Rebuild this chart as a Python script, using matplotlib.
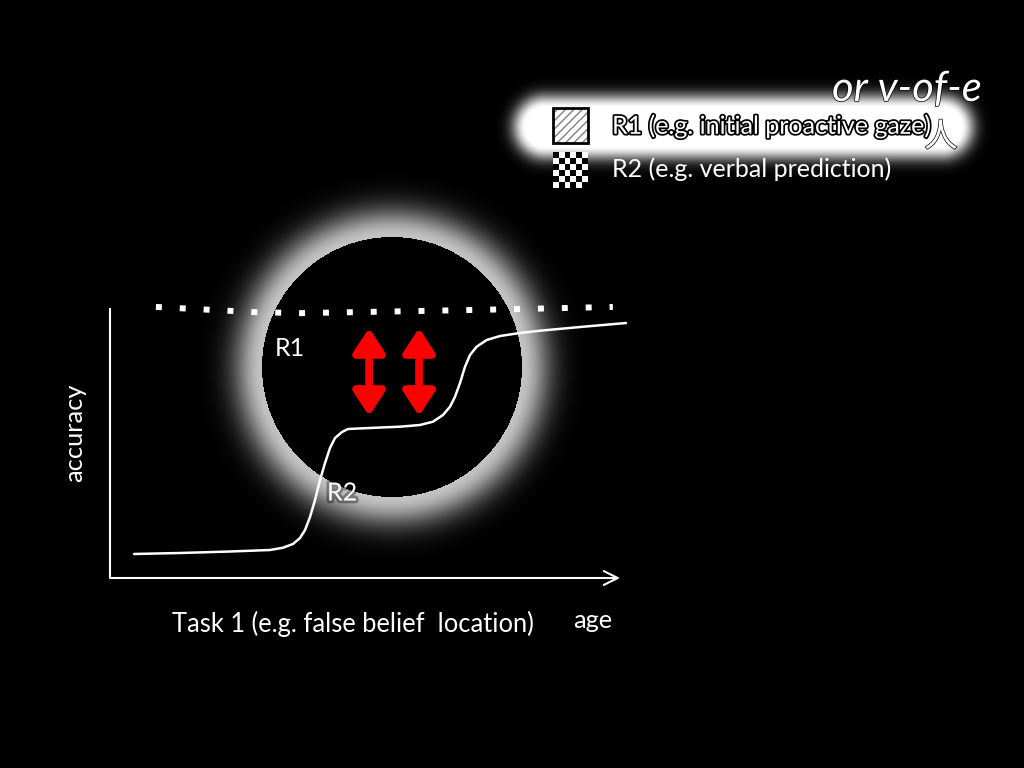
import numpy as np
import matplotlib
matplotlib.use('Agg')
import matplotlib.pyplot as plt
from matplotlib import patheffects as pe
from matplotlib.patches import Rectangle

plt.rcParams['font.family'] = ['Lato', 'DejaVu Sans']

# ---- data ----
# R2 curve (e.g. verbal prediction): accuracy vs age
age_r2 = [0.471, 1.373, 2.353, 3.137, 3.392, 3.588, 3.725, 3.824, 3.922, 4.020,
          4.118, 4.216, 4.314, 4.412, 4.549, 4.667, 5.098, 5.686, 6.078, 6.333,
          6.529, 6.667, 6.765, 6.863, 6.961, 7.059, 7.190, 7.386, 7.647, 8.039,
          8.431, 9.216, 10.118]
acc_r2 = [0.0889, 0.0926, 0.0981, 0.1037, 0.1122, 0.1259, 0.1481, 0.1778, 0.2259,
          0.2889, 0.3630, 0.4259, 0.4815, 0.5185, 0.5407, 0.5519, 0.5556, 0.5604,
          0.5667, 0.5789, 0.6037, 0.6344, 0.6715, 0.7222, 0.7826, 0.8259, 0.8567,
          0.8815, 0.8963, 0.9074, 0.9159, 0.9296, 0.9444]
# R1 curve (e.g. initial proactive gaze): dotted near ceiling
age_r1 = [0.90, 2.79, 3.74, 6.08, 8.00, 9.86]
acc_r1 = [1.004, 0.985, 0.981, 0.989, 0.996, 1.004]
# red double arrows marking the R1/R2 gap
arrow_age = [5.08, 6.06]
arrow_span = [0.600, 0.926]

legend_labels = ['R1 (e.g. initial proactive gaze)', 'R2 (e.g. verbal prediction)']
x_label = 'Task 1 (e.g. false belief  location)'
y_label = 'accuracy'

W, H = 1024, 768
fig = plt.figure(figsize=(W / 100, H / 100), dpi=100, facecolor='black')

# ---- background / spotlight layer (pixel coordinates) ----
bg = fig.add_axes([0, 0, 1, 1])
bg.set_facecolor('black')
yy, xx = np.mgrid[0:H, 0:W] + 0.5
cx, cy, R = 392, 367, 130
d = np.hypot(xx - cx, yy - cy) - R
circ = np.where(d > 0, 0.76 * np.exp(-(d / 29.0) ** 2), 0.0)
# capsule-shaped highlight behind first legend row
sx0, sx1, sy = 545, 942, 127
px = np.clip(xx, sx0, sx1)
dist = np.hypot(xx - px, yy - sy)
leg = np.exp(-(np.maximum(dist - 19, 0) / 14.0) ** 2)
img = np.clip(np.maximum(circ, leg), 0, 1)
bg.imshow(img, cmap='gray', vmin=0, vmax=1, extent=(0, W, H, 0),
          interpolation='bilinear', aspect='auto', zorder=0)

# legend swatches
bg.add_patch(Rectangle((553, 108), 35, 35, facecolor='white', edgecolor='#808080',
                       hatch='////', lw=0, zorder=2))
bg.add_patch(Rectangle((553, 108), 35, 35, fill=False, edgecolor='black', lw=2, zorder=3))
checker = np.indices((6, 6)).sum(axis=0) % 2
bg.imshow(checker, cmap='gray', vmin=0, vmax=1, extent=(553, 588, 188, 152),
          interpolation='nearest', aspect='auto', zorder=2)

outline = [pe.withStroke(linewidth=2.5, foreground='black')]
bg.text(612, 126, legend_labels[0], color='white', fontsize=18, va='center', ha='left',
        path_effects=outline, zorder=4)
bg.text(612, 169, legend_labels[1], color='white', fontsize=18, va='center', ha='left',
        zorder=4)
thin = [pe.withStroke(linewidth=1.0, foreground='black')]
bg.text(832, 101, 'or v-of-e', color='white', fontsize=30, fontweight='normal',
        style='italic', va='baseline', ha='left', path_effects=thin, zorder=5)
bg.text(941, 137, '人', color='white', fontsize=24, family=['Noto Sans CJK JP'],
        fontweight='normal', va='center', ha='center', path_effects=thin, zorder=5)

bg.text(275, 348, 'R1', color='white', fontsize=18, va='center', ha='left', zorder=4)
bg.text(327, 493, 'R2', color='white', fontsize=18, va='center', ha='left', zorder=4,
        path_effects=[pe.withStroke(linewidth=4, foreground='black', alpha=0.35)])
bg.text(75, 433, y_label, color='white', fontsize=18.3, rotation=90, va='center',
        ha='center', zorder=4)
bg.text(172, 624, x_label, color='white', fontsize=18.4, va='center', ha='left', zorder=4)
bg.text(573, 620, 'age', color='white', fontsize=18.3, va='center', ha='left', zorder=4)

bg.set_xlim(0, W)
bg.set_ylim(H, 0)
bg.axis('off')

# ---- chart axes ----
ax = fig.add_axes([110 / W, 190 / H, 510 / W, 270 / H])
ax.set_xlim(0, 10)
ax.set_ylim(0, 1)
ax.axis('off')
ax.patch.set_alpha(0)

ax.plot([0, 0], [0, 1], transform=ax.transAxes, color='white', lw=1.5,
        clip_on=False, solid_capstyle='butt')
ax.annotate('', xy=(1, 0), xytext=(0, 0), xycoords='axes fraction',
            arrowprops=dict(arrowstyle='->,head_length=0.5,head_width=0.25',
                            mutation_scale=20, color='white', lw=1.5,
                            shrinkA=0, shrinkB=0))

ax.plot(age_r2, acc_r2, color='white', lw=1.8, clip_on=False,
        solid_capstyle='round', solid_joinstyle='round')
ax.plot(age_r1, acc_r1, color='white', lw=4.3, linestyle=(0, (1, 3)),
        dash_capstyle='butt', clip_on=False)

for a in arrow_age:
    ax.annotate('', xy=(a, arrow_span[1]), xytext=(a, arrow_span[0]),
                arrowprops=dict(arrowstyle='<|-|>,head_length=0.72,head_width=0.47',
                                mutation_scale=20, color='#ff0000', lw=5.5,
                                shrinkA=0, shrinkB=0, joinstyle='round'))

fig.savefig('out.png', dpi=100, facecolor='black')
